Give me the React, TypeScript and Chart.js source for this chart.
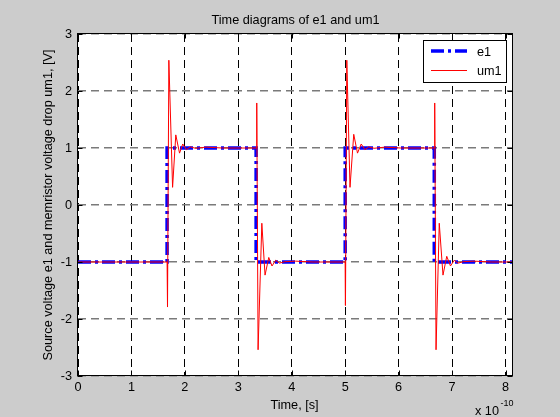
import React, { useEffect, useRef } from "react";
import { Chart, registerables } from "chart.js";

Chart.register(...registerables);

// Time axis is in units of 1e-10 s
const timeAxisMax = 8.14;
const xTickValues = [0, 1, 2, 3, 4, 5, 6, 7, 8];
const yTickValues = [-3, -2, -1, 0, 1, 2, 3];

const e1Time = [0, 1.667, 1.667, 3.333, 3.333, 5.0, 5.0, 6.667, 6.667, 8.14];
const e1Volt = [-1, -1, 1, 1, -1, -1, 1, 1, -1, -1];

const um1Time = [
  0, 1.0, 1.667, 1.675, 1.7, 1.77, 1.83, 1.9, 1.96, 2.03, 2.1, 2.2, 2.4, 2.7,
  3.333, 3.345, 3.37, 3.44, 3.5, 3.57, 3.63, 3.7, 3.77, 3.87, 4.07, 4.4,
  5.0, 5.005, 5.03, 5.09, 5.16, 5.23, 5.3, 5.37, 5.44, 5.54, 5.74, 6.04,
  6.667, 6.675, 6.7, 6.76, 6.83, 6.9, 6.97, 7.04, 7.11, 7.21, 7.41, 7.74, 8.14,
];
const um1Volt = [
  -1, -1, -1, -1.79, 2.54, 0.31, 1.23, 0.91, 1.07, 0.97, 1.02, 0.995, 1.015, 1.0,
  1.0, 1.79, -2.54, -0.32, -1.23, -0.92, -1.07, -0.97, -1.02, -0.995, -0.985, -1.0,
  -1.0, -1.76, 2.54, 0.31, 1.24, 0.91, 1.07, 0.97, 1.02, 0.995, 1.015, 1.0,
  1.0, 1.79, -2.54, -0.32, -1.23, -0.9, -1.07, -0.97, -1.02, -0.995, -0.985, -1.0, -1.0,
];

const titleText = "Time diagrams of e1 and um1";
const xTitleText = "Time, [s]";
const yTitleText = "Source voltage e1 and memristor voltage drop um1, [V]";
const legendLabels = ["e1", "um1"];

const FONT_FAMILY = '"Liberation Sans", Arial, Helvetica, sans-serif';
const FONT_SIZE = 12.7;
const BLUE = "#0000ff";
const RED = "#ff0000";
const DASHDOT = [13, 4, 3, 4];

const decorPlugin = {
  id: "decor",
  beforeDraw(chart: any) {
    const { ctx, chartArea: a, width, height } = chart;
    ctx.save();
    ctx.fillStyle = "#cccccc";
    ctx.fillRect(0, 0, width, height);
    ctx.fillStyle = "#ffffff";
    ctx.fillRect(a.left, a.top, a.right - a.left, a.bottom - a.top);
    ctx.restore();
  },
  afterDraw(chart: any) {
    const { ctx, chartArea: a } = chart;
    const xs = chart.scales.x;
    const ys = chart.scales.y;
    ctx.save();
    // axes box
    ctx.strokeStyle = "#000";
    ctx.lineWidth = 1;
    ctx.setLineDash([]);
    const L = Math.round(a.left) - 0.5;
    const R = Math.round(a.right) - 0.5;
    const T = Math.round(a.top) - 0.5;
    const B = Math.round(a.bottom) - 0.5;
    ctx.strokeRect(L, T, R - L, B - T);
    // inside tick marks
    const tl = 5;
    ctx.beginPath();
    xTickValues.forEach((v) => {
      const px = Math.round(xs.getPixelForValue(v)) + 0.5;
      ctx.moveTo(px, B);
      ctx.lineTo(px, B - tl);
      ctx.moveTo(px, T);
      ctx.lineTo(px, T + tl);
    });
    yTickValues.forEach((v) => {
      const py = Math.round(ys.getPixelForValue(v)) + 0.5;
      ctx.moveTo(L, py);
      ctx.lineTo(L + tl, py);
      ctx.moveTo(R, py);
      ctx.lineTo(R - tl, py);
    });
    ctx.stroke();

    // title
    ctx.fillStyle = "#000";
    ctx.font = `${FONT_SIZE}px ${FONT_FAMILY}`;
    ctx.textAlign = "center";
    ctx.textBaseline = "alphabetic";
    const cx = (a.left + a.right) / 2;
    ctx.fillText(titleText, cx, 23.5);
    // x title
    ctx.fillText(xTitleText, cx - 1, 408.5);
    // exponent
    ctx.textAlign = "left";
    ctx.fillText("x 10", 475, 415);
    ctx.font = `9px ${FONT_FAMILY}`;
    ctx.fillText("-10", 500.5, 405.5);
    // y title
    ctx.save();
    ctx.font = `${FONT_SIZE}px ${FONT_FAMILY}`;
    ctx.translate(52, (a.top + a.bottom) / 2);
    ctx.rotate(-Math.PI / 2);
    ctx.textAlign = "center";
    ctx.fillText(yTitleText, 0, 0);
    ctx.restore();

    // legend
    const lx = 423.5, ly = 40.5, lw = 83, lh = 42;
    ctx.fillStyle = "#fff";
    ctx.fillRect(lx, ly, lw, lh);
    ctx.strokeStyle = "#000";
    ctx.lineWidth = 1;
    ctx.strokeRect(lx, ly, lw, lh);
    // e1 sample
    ctx.strokeStyle = BLUE;
    ctx.lineWidth = 3.5;
    ctx.setLineDash(DASHDOT);
    ctx.beginPath();
    ctx.moveTo(431, 51);
    ctx.lineTo(467, 51);
    ctx.stroke();
    // um1 sample
    ctx.setLineDash([]);
    ctx.strokeStyle = RED;
    ctx.lineWidth = 1;
    ctx.beginPath();
    ctx.moveTo(431, 70.5);
    ctx.lineTo(467, 70.5);
    ctx.stroke();
    ctx.fillStyle = "#000";
    ctx.font = `${FONT_SIZE}px ${FONT_FAMILY}`;
    ctx.textAlign = "left";
    ctx.textBaseline = "middle";
    ctx.fillText(legendLabels[0], 477, 52);
    ctx.fillText(legendLabels[1], 477, 71);
    ctx.restore();
  },
};

export default function App() {
  const canvasRef = useRef<HTMLCanvasElement | null>(null);

  useEffect(() => {
    const canvas = canvasRef.current;
    if (!canvas) return;
    const chart = new Chart(canvas, {
      type: "line",
      data: {
        datasets: [
          {
            label: legendLabels[0],
            data: e1Time.map((t, i) => ({ x: t, y: e1Volt[i] })),
            borderColor: BLUE,
            borderWidth: 3.5,
            borderDash: DASHDOT,
            pointRadius: 0,
            tension: 0,
            fill: false,
            order: 2,
          },
          {
            label: legendLabels[1],
            data: um1Time.map((t, i) => ({ x: t, y: um1Volt[i] })),
            borderColor: RED,
            borderWidth: 1,
            pointRadius: 0,
            tension: 0,
            fill: false,
            order: 1,
          },
        ],
      },
      options: {
        animation: false,
        responsive: false,
        devicePixelRatio: 1,
        layout: { padding: { left: 0, right: 47, top: 34, bottom: 0 } },
        plugins: {
          legend: { display: false },
          title: { display: false },
          tooltip: { enabled: false },
        },
        font: { family: FONT_FAMILY, size: FONT_SIZE },
        scales: {
          x: {
            type: "linear",
            min: 0,
            max: timeAxisMax,
            afterBuildTicks: (scale: any) => {
              scale.ticks = xTickValues.map((v) => ({ value: v }));
            },
            afterFit: (scale: any) => {
              scale.height = 41;
            },
            ticks: {
              color: "#000",
              padding: 4,
              maxRotation: 0,
              autoSkip: false,
              font: { family: FONT_FAMILY, size: FONT_SIZE },
              callback: (v: any) => String(v),
            },
            grid: {
              color: "#000",
              lineWidth: 1,
              drawTicks: false,
            },
            border: { display: false, dash: [8, 5] },
          },
          y: {
            type: "linear",
            min: -3,
            max: 3,
            afterBuildTicks: (scale: any) => {
              scale.ticks = yTickValues.map((v) => ({ value: v }));
            },
            afterFit: (scale: any) => {
              scale.width = 78;
            },
            ticks: {
              color: "#000",
              padding: 6,
              autoSkip: false,
              font: { family: FONT_FAMILY, size: FONT_SIZE },
              callback: (v: any) => String(v),
            },
            grid: {
              color: "#7a7a7a",
              lineWidth: 1.6,
              drawTicks: false,
            },
            border: { display: false, dash: [8, 5] },
          },
        },
      },
      plugins: [decorPlugin],
    } as any);
    return () => chart.destroy();
  }, []);

  return (
    <div
      style={{
        position: "fixed",
        left: 0,
        top: 0,
        width: 560,
        height: 417,
        background: "#cccccc",
      }}
    >
      <canvas ref={canvasRef} width={560} height={417} style={{ display: "block", width: 560, height: 417 }} />
    </div>
  );
}
